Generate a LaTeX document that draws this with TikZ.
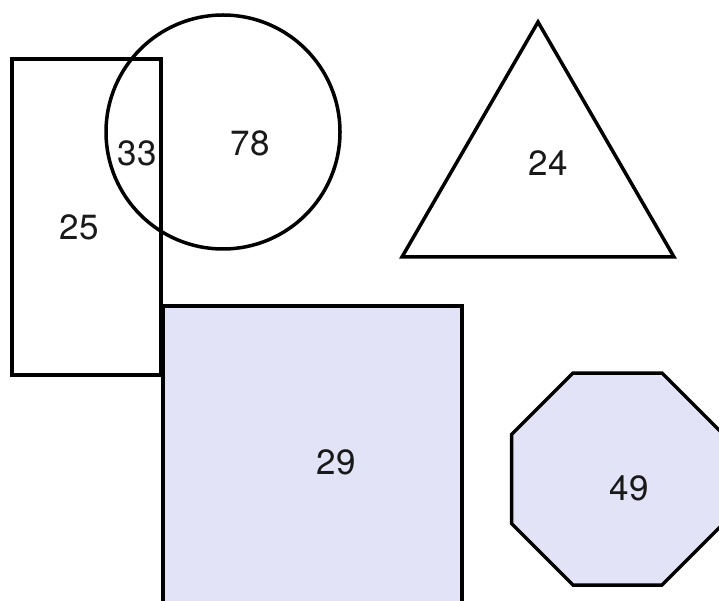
\documentclass[tikz,border=0pt]{standalone}
\usepackage{fontspec}
\setmainfont{TeX Gyre Heros}
\usepackage{xcolor}
\usepackage{tikz}
\definecolor{shadefill}{RGB}{226,227,246}

\begin{document}
\begin{tikzpicture}[
    x=1pt, y=-1pt,
    outline/.style={draw=black, line width=3.5pt, line join=miter},
    lbl/.style={inner sep=0pt, text=black!90, font=\fontsize{35}{41}\selectfont}
]
\useasboundingbox (0,0) rectangle (719,601);
\clip (0,0) rectangle (719,601);
% shaded shapes
\draw[outline, fill=shadefill] (163,306) rectangle (462,630);
\draw[outline, fill=shadefill] (573,373) -- (662,373) -- (723.5,434.5) -- (723.5,523.5)
    -- (662,585) -- (573,585) -- (511.5,523.5) -- (511.5,434.5) -- cycle;
% outlined shapes
\draw[outline] (12,59) rectangle (161,375);
\draw[outline] (223,132) circle (117);
\draw[outline] (538,22) -- (674,257) -- (402,257) -- cycle;
% labels
\node[lbl] (rectlbl) at (79,227) {25};
\node[lbl] (overlbl) at (137,153) {33};
\node[lbl] (circlbl) at (250,143) {78};
\node[lbl] (trilbl) at (548,163) {24};
\node[lbl] (sqlbl) at (336,462) {29};
\node[lbl] (octlbl) at (629,488) {49};
\end{tikzpicture}
\end{document}
